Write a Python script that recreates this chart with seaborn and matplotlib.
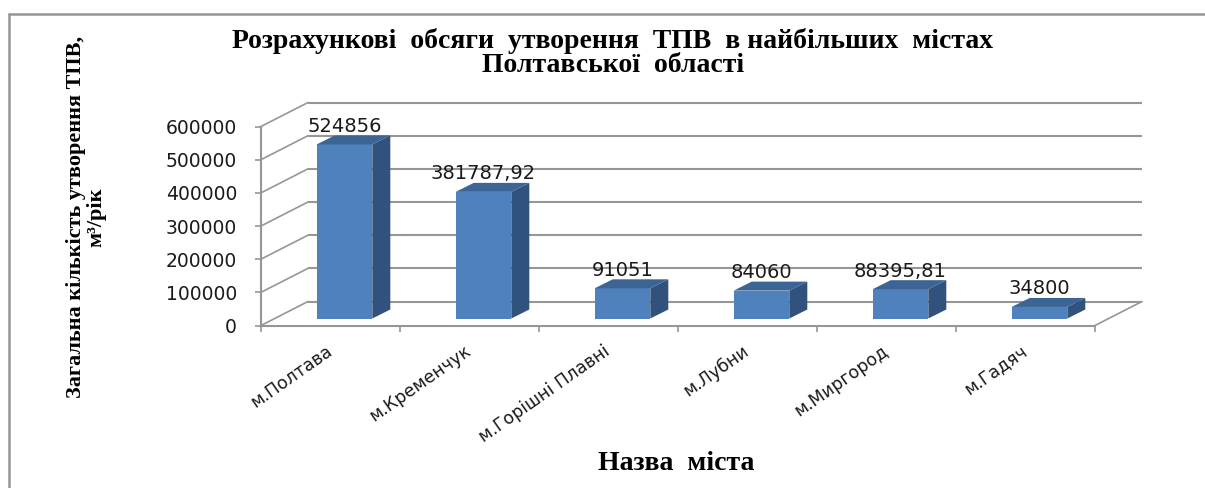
import numpy as np
import pandas as pd
import matplotlib
matplotlib.use('Agg')
import matplotlib.pyplot as plt
import seaborn as sns
from matplotlib.patches import Polygon
from matplotlib.lines import Line2D

# ---------------- data ----------------
cities = ['м.Полтава', 'м.Кременчук', 'м.Горішні Плавні', 'м.Лубни', 'м.Миргород', 'м.Гадяч']
volumes = [524856, 381787.92, 91051, 84060, 88395.81, 34800]
y_ticks = [0, 100000, 200000, 300000, 400000, 500000, 600000]
title_text = 'Розрахункові  обсяги  утворення  ТПВ  в найбільших  містах\nПолтавської  області'
ylabel_text = 'Загальна кількість утворення ТПВ,\nм³/рік'
xlabel_text = 'Назва  міста'

# ---------------- style ----------------
W, H, DPI = 1205, 488, 100
sns.set_style('white')
plt.rcParams['font.family'] = ['DejaVu Sans']

FRONT = '#4F81BD'
TOP = '#3C6595'
SIDE = '#30527C'
GRID = '#969696'
TXT = '#1a1a1a'

fig = plt.figure(figsize=(W / DPI, H / DPI), dpi=DPI)
fig.patch.set_facecolor('white')

ax_l, ax_r, ax_b, ax_t = 261, 1095, 325.5, 126.5
ax = fig.add_axes([ax_l / W, 1 - ax_b / H, (ax_r - ax_l) / W, (ax_b - ax_t) / H])
ax.set_facecolor('none')

df = pd.DataFrame({'city': cities, 'volume': volumes})
sns.barplot(data=df, x='city', y='volume', color=FRONT, width=0.4, saturation=1,
            edgecolor='none', linewidth=0, ax=ax, zorder=3)

n = len(cities)
ax.set_xlim(-0.5, n - 0.5)
ax.set_ylim(y_ticks[0], y_ticks[-1])

# pixel -> data converters
sx = (ax_r - ax_l) / n
sy = (ax_b - ax_t) / (y_ticks[-1] - y_ticks[0])
def dx(px):
    return px / sx
def dy(px):
    return px / sy

# ---------------- walls / floor ----------------
fdx, fdy = dx(47), dy(24)
x0, x1 = -0.5, n - 0.5
for v in y_ticks:
    ax.plot([x0 + fdx, x1 + fdx], [v + fdy, v + fdy], color=GRID, lw=1.5,
            clip_on=False, zorder=1, solid_capstyle='butt')
    ax.plot([x0, x0 + fdx], [v, v + fdy], color=GRID, lw=1.2, clip_on=False, zorder=1)
ax.plot([x1, x1 + fdx], [0, fdy], color=GRID, lw=1.2, clip_on=False, zorder=1)

# ---------------- 3D bars ----------------
bdx, bdy = dx(14), dy(7)
ddx, ddy = dx(18), dy(9)
for p, v in zip(ax.patches, volumes):
    p.set_x(p.get_x() + bdx)
    p.set_y(p.get_y() + bdy)
    p.set_clip_on(False)
    xa = p.get_x()
    xb = xa + p.get_width()
    yb = p.get_y()
    yt = yb + p.get_height()
    top = Polygon([(xa, yt), (xb, yt), (xb + ddx, yt + ddy), (xa + ddx, yt + ddy)],
                  closed=True, fc=TOP, ec='none', zorder=3, clip_on=False)
    side = Polygon([(xb, yb), (xb, yt), (xb + ddx, yt + ddy), (xb + ddx, yb + ddy)],
                   closed=True, fc=SIDE, ec='none', zorder=3, clip_on=False)
    ax.add_patch(side)
    ax.add_patch(top)
    txt = (f"{v:.2f}".replace('.', ',')) if v % 1 else f"{int(v)}"
    ax.annotate(txt, xy=(xa + p.get_width() / 2, yt), xytext=(0, 18),
                textcoords='offset pixels', ha='center', va='center',
                fontsize=14, color=TXT, zorder=5, annotation_clip=False)

# ---------------- axes ----------------
for s in ['top', 'right']:
    ax.spines[s].set_visible(False)
for s in ['left', 'bottom']:
    ax.spines[s].set_color(GRID)
    ax.spines[s].set_linewidth(1.5)
    ax.spines[s].set_zorder(2)

ax.set_yticks(y_ticks)
ax.set_yticklabels([str(v) for v in y_ticks])
ax.tick_params(axis='y', length=4.3, width=1.2, color=GRID, pad=13,
               labelsize=13.5, labelcolor=TXT, left=True, direction='out')

ax.set_xticks(range(n))
ax.set_xticklabels(cities)
ax.set_xticks(np.arange(-0.5, n, 1), minor=True)
ax.tick_params(axis='x', which='major', length=0, pad=17, labelsize=12.5, labelcolor=TXT)
ax.tick_params(axis='x', which='minor', length=4.3, width=1.2, color=GRID,
               direction='out', bottom=True)
for lab in ax.get_xticklabels():
    lab.set_rotation(35)
    lab.set_ha('right')
    lab.set_va('center')
    lab.set_rotation_mode('anchor')
ax.set_xlabel('')
ax.set_ylabel('')
ax.grid(False)

# ---------------- texts ----------------
fig.text(613 / W, 1 - 53 / H, title_text, ha='center', va='center',
         family='Liberation Serif', weight='bold', fontsize=20, linespacing=0.92,
         color='black')
fig.text(86 / W, 1 - 217 / H, ylabel_text, rotation=90, ha='center', va='center',
         multialignment='center', family='Liberation Serif', weight='bold',
         fontsize=16, linespacing=1.05, color='black')
fig.text(676 / W, 1 - 463 / H, xlabel_text, ha='center', va='center',
         family='Liberation Serif', weight='bold', fontsize=20, color='black')

# ---------------- outer frame ----------------
fx, fy = 9 / W, 1 - 14 / H
fig.add_artist(Line2D([fx, 1.0], [fy, fy], transform=fig.transFigure, color=GRID, lw=1.8))
fig.add_artist(Line2D([fx, fx], [0, fy], transform=fig.transFigure, color=GRID, lw=1.8))

fig.savefig('out.png', dpi=DPI)
